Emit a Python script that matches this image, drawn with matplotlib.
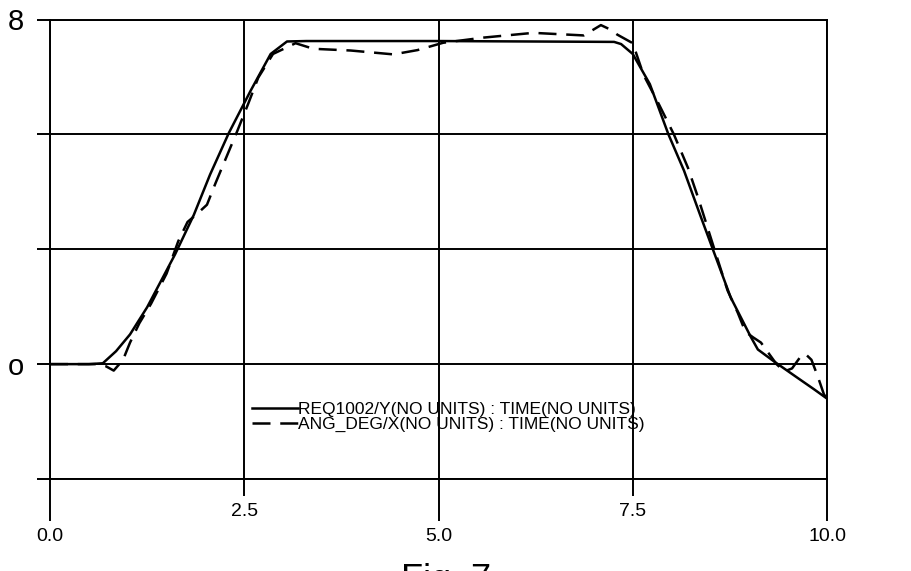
import matplotlib.pyplot as plt

# REQ1002/Y (solid)
req_time = [0.0, 0.5, 0.68, 0.85, 1.03, 1.25, 1.61, 1.85, 2.06, 2.30, 2.58,
            2.84, 3.05, 3.3, 5.0, 7.26, 7.35, 7.5, 7.72, 7.96, 8.16, 8.38,
            8.53, 8.76, 9.02, 9.11, 9.32, 9.63, 9.83, 10.0]
req_val = [0.0, 0.0, 0.02, 0.3, 0.69, 1.32, 2.55, 3.46, 4.40, 5.36, 6.34,
           7.20, 7.49, 7.5, 7.5, 7.48, 7.43, 7.2, 6.5, 5.33, 4.49, 3.4,
           2.67, 1.55, 0.63, 0.34, 0.06, -0.33, -0.58, -0.8]

# ANG_DEG/X (dashed)
ang_time = [0.0, 0.6, 0.72, 0.82, 0.94, 1.03, 1.15, 1.3, 1.5, 1.65, 1.77,
            1.9, 2.02, 2.13, 2.41, 2.55, 2.68, 2.87, 3.16, 3.39, 3.87, 4.42,
            4.73, 5.06, 5.58, 6.22, 6.87, 7.09, 7.22, 7.3, 7.5, 7.64, 7.84,
            8.03, 8.21, 8.34, 8.55, 8.72, 8.85, 8.95, 9.05, 9.15, 9.25, 9.35,
            9.45, 9.55, 9.65, 9.72, 9.8, 9.88, 9.96, 10.0]
ang_val = [0.0, 0.0, -0.05, -0.15, 0.1, 0.5, 0.95, 1.4, 2.1, 2.85, 3.3,
           3.5, 3.7, 4.2, 5.41, 6.04, 6.65, 7.20, 7.45, 7.32, 7.28, 7.19,
           7.29, 7.46, 7.58, 7.69, 7.63, 7.87, 7.76, 7.65, 7.45, 6.71, 6.02,
           5.33, 4.56, 3.87, 2.67, 1.71, 1.2, 0.75, 0.62, 0.5, 0.25, 0.0,
           -0.17, -0.1, 0.15, 0.24, 0.1, -0.28, -0.7, -0.8]

req_label = "REQ1002/Y(NO UNITS) : TIME(NO UNITS)"
ang_label = "ANG_DEG/X(NO UNITS) : TIME(NO UNITS)"

x_major = [0.0, 5.0, 10.0]
x_major_labels = ["0.0", "5.0", "10.0"]
x_minor = [2.5, 7.5]
x_minor_labels = ["2.5", "7.5"]
y_ticks = [-8 / 3, 0, 8 / 3, 16 / 3, 8]
y_labels = ["", "o", "", "", "8"]

plt.rcParams["font.family"] = ["Liberation Sans", "DejaVu Sans"]

fig = plt.figure(figsize=(9.11, 5.71), dpi=100)
ax = fig.add_axes([50 / 911, 1 - 479 / 571, 777 / 911, 459.5 / 571])

ax.plot(req_time, req_val, color="black", lw=1.8, label=req_label)
ax.plot(ang_time, ang_val, color="black", lw=1.8, dashes=(7.2, 3.9),
        label=ang_label)

ax.set_xlim(0, 10)
ax.set_ylim(-8 / 3, 8)

ax.set_xticks(x_major, x_major_labels)
ax.set_xticks(x_minor, x_minor_labels, minor=True)
ax.set_yticks(y_ticks, y_labels)

ax.grid(True, which="both", color="black", lw=1.4)
for s in ax.spines.values():
    s.set_linewidth(1.4)

ax.tick_params(axis="x", which="major", length=30, width=1.4, pad=5,
               labelsize=14)
ax.tick_params(axis="x", which="minor", length=12, width=1.4, pad=5,
               labelsize=14)
ax.tick_params(axis="y", length=9.5, width=1.4, pad=9, labelsize=21)

ax.legend(loc="upper left", bbox_to_anchor=(252 / 911, 1 - 402 / 571),
          bbox_transform=fig.transFigure, frameon=False, fontsize=12.5,
          handlelength=2.65, handletextpad=0.0, borderpad=0,
          borderaxespad=0, labelspacing=0.0)

fig.text(0.49, 1 - 563 / 571, "Fig. 7", fontsize=26, va="top", ha="center")

fig.savefig("out.png", dpi=100)
plt.close()
